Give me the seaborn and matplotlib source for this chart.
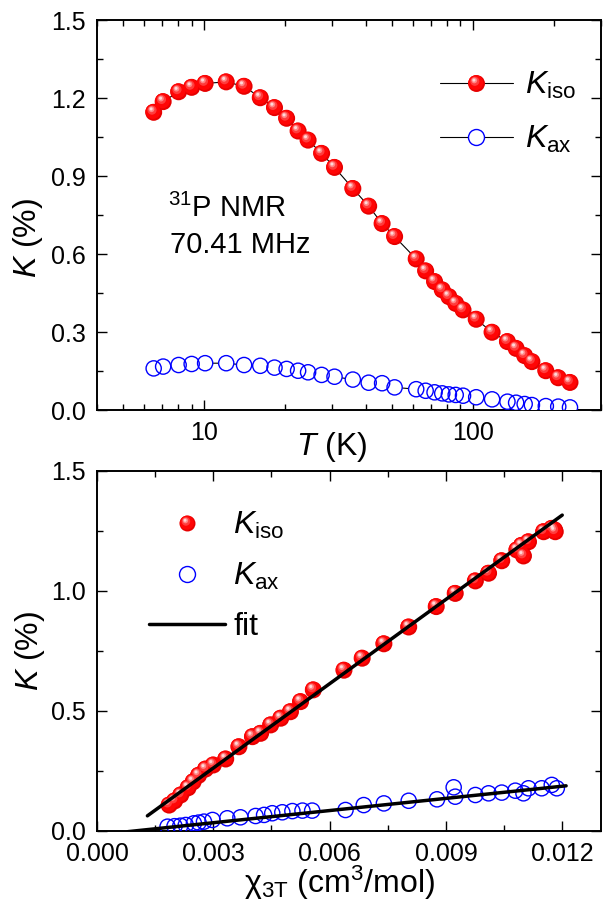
import numpy as np
import pandas as pd
import matplotlib
matplotlib.use("Agg")
import matplotlib.pyplot as plt
import seaborn as sns
from matplotlib.path import Path
from matplotlib.lines import Line2D
from matplotlib.legend_handler import HandlerTuple
from matplotlib.ticker import MultipleLocator, FixedLocator, FormatStrFormatter, NullFormatter, LogLocator

# ---- Knight shift vs temperature ----
T = [6.5, 7.05, 8.05, 9.0, 10.1, 12.1, 14.1, 16.2, 18.3, 20.3, 22.4, 24.4, 27.4, 30.6,
     35.8, 41.0, 46.0, 51.2, 61.6, 66.8, 72.1, 77.0, 81.5, 86.4, 92.0, 103, 118, 134.6,
     145, 156, 166, 187, 208, 230]
K_iso = [1.145, 1.186, 1.224, 1.241, 1.256, 1.262, 1.245, 1.201, 1.163, 1.122, 1.073, 1.038,
         0.987, 0.933, 0.852, 0.784, 0.717, 0.667, 0.581, 0.535, 0.494, 0.462, 0.436, 0.410,
         0.385, 0.349, 0.299, 0.263, 0.237, 0.209, 0.186, 0.151, 0.124, 0.106]
K_ax = [0.160, 0.167, 0.173, 0.177, 0.180, 0.180, 0.173, 0.170, 0.163, 0.158, 0.151, 0.145,
        0.135, 0.128, 0.117, 0.105, 0.103, 0.087, 0.080, 0.074, 0.068, 0.064, 0.060, 0.058,
        0.055, 0.049, 0.041, 0.032, 0.028, 0.023, 0.019, 0.015, 0.013, 0.010]

# ---- Knight shift vs susceptibility (Clogston-Jaccarino plot) ----
chi_iso = [0.00186, 0.00200, 0.00216, 0.00235, 0.00248, 0.00262, 0.00280, 0.00300, 0.00332,
           0.00366, 0.00401, 0.00422, 0.00448, 0.00474, 0.00499, 0.00525, 0.00558, 0.00637,
           0.00684, 0.00740, 0.00804, 0.00875, 0.00924, 0.00976, 0.01010, 0.01044, 0.01083,
           0.01100, 0.01095, 0.01113, 0.01152, 0.01173, 0.01182, 0.01180]
Kc_iso = [0.108, 0.125, 0.150, 0.180, 0.205, 0.232, 0.258, 0.275, 0.300, 0.351, 0.393, 0.407,
          0.442, 0.470, 0.497, 0.539, 0.588, 0.670, 0.720, 0.780, 0.850, 0.935, 0.990, 1.042,
          1.074, 1.126, 1.171, 1.146, 1.190, 1.205, 1.247, 1.261, 1.247, 1.255]
chi_ax = [0.00182, 0.00200, 0.00215, 0.00229, 0.00250, 0.00262, 0.00276, 0.00298, 0.00336,
          0.00370, 0.00409, 0.00431, 0.00452, 0.00478, 0.00504, 0.00530, 0.00555, 0.00641,
          0.00688, 0.00740, 0.00804, 0.00877, 0.00920, 0.00924, 0.00976, 0.01010, 0.01044,
          0.01079, 0.01100, 0.01113, 0.01147, 0.01173, 0.01186]
Kc_ax = [0.018, 0.020, 0.022, 0.025, 0.032, 0.035, 0.039, 0.046, 0.053, 0.057, 0.0625, 0.067,
         0.074, 0.078, 0.083, 0.085, 0.085, 0.0875, 0.108, 0.115, 0.126, 0.132, 0.182, 0.143,
         0.150, 0.157, 0.160, 0.168, 0.157, 0.178, 0.178, 0.192, 0.178]

# linear fits K = slope * chi + offset
fit_iso = (117.1, -0.089)
fit_ax = (16.9, -0.0162)
fit_iso_range = [0.0013, 0.0120]
fit_ax_range = [0.0008, 0.0121]

xticks_bottom = [0.000, 0.003, 0.006, 0.009, 0.012]
yticks_bottom = [0.0, 0.5, 1.0, 1.5]

BLUE = "#0000ff"

sns.set_theme(style="ticks")
plt.rcParams["font.family"] = ["Liberation Sans", "DejaVu Sans"]
plt.rcParams["mathtext.fontset"] = "custom"
plt.rcParams["mathtext.rm"] = "Liberation Sans"
plt.rcParams["mathtext.it"] = "Liberation Sans:italic"
plt.rcParams["mathtext.bf"] = "Liberation Sans:bold"
plt.rcParams["axes.linewidth"] = 1.4
for key in ("text.color", "axes.labelcolor", "xtick.color", "ytick.color",
            "xtick.labelcolor", "ytick.labelcolor", "axes.edgecolor"):
    plt.rcParams[key] = "black"

fig = plt.figure(figsize=(6.05, 9.07), dpi=100)
W, H = 605, 907
ax1 = fig.add_axes([97 / W, 1 - 410 / H, 504 / W, 390 / H])
ax2 = fig.add_axes([97 / W, 1 - 831 / H, 504 / W, 360 / H])


def disc(cx, cy, r):
    """Circle marker path placed inside a unit frame so that offsets survive normalisation."""
    pad = Path([(0.5, 0.5), (-0.5, -0.5)], [Path.MOVETO, Path.MOVETO])
    return Path.make_compound_path(pad, Path.circle((cx, cy), r))


# shaded "glass ball" marker built from stacked discs
BALL = [
    (disc(0.0, 0.0, 0.5), "#e60000"),
    (disc(-0.04, 0.05, 0.44), "#ff0505"),
    (disc(-0.10, 0.13, 0.27), "#ff3c3c"),
    (disc(-0.13, 0.18, 0.17), "#ff8686"),
    (disc(-0.15, 0.20, 0.09), "#ffd8d8"),
]
BALL_S = 150


def balls(ax, x, y, s=BALL_S):
    df = pd.DataFrame({"x": x, "y": y})
    for path, col in BALL:
        sns.scatterplot(data=df, x="x", y="y", ax=ax, marker=path, s=s, color=col,
                        linewidth=0, edgecolor="none", legend=False, zorder=4)


def rings(ax, x, y, s=120, hide_line=False):
    df = pd.DataFrame({"x": x, "y": y})
    if hide_line:
        sns.scatterplot(data=df, x="x", y="y", ax=ax, marker="o", s=s, color="white",
                        linewidth=0, edgecolor="none", legend=False, zorder=3)
    sns.scatterplot(data=df, x="x", y="y", ax=ax, marker="o", s=s, facecolor="none",
                    edgecolor=BLUE, linewidth=1.0, legend=False, zorder=4)


def ball_handle(ms=12.2, with_line=False):
    parts = []
    for i, (path, col) in enumerate(BALL):
        if i == 0 and with_line:
            parts.append(Line2D([], [], color="black", lw=0.8, marker=path, ms=ms,
                                mfc=col, mec="none", mew=0))
        else:
            parts.append(Line2D([], [], ls="", marker=path, ms=ms, mfc=col, mec="none", mew=0))
    return tuple(parts)


OVERLAY = {tuple: HandlerTuple(ndivide=1, pad=0)}

# ---------------- top panel ----------------
top = pd.DataFrame({"T": T, "K_iso": K_iso, "K_ax": K_ax})
sns.lineplot(data=top, x="T", y="K_iso", ax=ax1, color="black", lw=0.8, sort=False,
             estimator=None, zorder=2)
sns.lineplot(data=top, x="T", y="K_ax", ax=ax1, color="black", lw=0.8, sort=False,
             estimator=None, zorder=2)
balls(ax1, top["T"], top["K_iso"])
rings(ax1, top["T"], top["K_ax"], hide_line=True)

ax1.set_xscale("log")
ax1.set_xlim(4, 300)
ax1.set_ylim(0, 1.5)
ax1.xaxis.set_major_locator(FixedLocator([10, 100]))
ax1.xaxis.set_major_formatter(FormatStrFormatter("%d"))
ax1.xaxis.set_minor_locator(LogLocator(base=10, subs=np.arange(2, 10)))
ax1.xaxis.set_minor_formatter(NullFormatter())
ax1.yaxis.set_major_locator(MultipleLocator(0.3))
ax1.yaxis.set_minor_locator(MultipleLocator(0.15))
ax1.yaxis.set_major_formatter(FormatStrFormatter("%.1f"))

ax1.set_xlabel(r"$T$ (K)", fontsize=23)
ax1.set_ylabel(r"$K$ (%)", fontsize=23)
ax1.xaxis.set_label_coords((332 - 97) / 504, -(447 - 410) / 390)
ax1.xaxis.label.set_va("center")
ax1.yaxis.set_label_coords(-(97 - 28) / 504, (410 - 238) / 390)
ax1.yaxis.label.set_va("center")

fig.text(168 / W, 1 - 217 / H, r"$^{31}$P NMR", fontsize=21, va="baseline", ha="left")
fig.text(170 / W, 1 - 253 / H, "70.41 MHz", fontsize=21, va="baseline", ha="left")

h_iso = ball_handle(with_line=True)
h_ax = Line2D([], [], color="black", lw=0.8, marker="o", ms=11.5, mfc="white", mec=BLUE, mew=1.0)
ax1.legend([h_iso, h_ax], [r"$K_{\mathrm{iso}}$", r"$K_{\mathrm{ax}}$"], handler_map=OVERLAY,
           loc="upper left", bbox_to_anchor=((440 - 97) / 504, (410 - 70) / 390),
           frameon=False, fontsize=23, handlelength=2.28, handletextpad=0.37,
           labelspacing=0.72, borderpad=0, borderaxespad=0)

# ---------------- bottom panel ----------------
balls(ax2, chi_iso, Kc_iso)
rings(ax2, chi_ax, Kc_ax)
for (slope, offset), rng in [(fit_iso, fit_iso_range), (fit_ax, fit_ax_range)]:
    fx = np.array(rng)
    fit_df = pd.DataFrame({"chi": fx, "K": slope * fx + offset})
    sns.lineplot(data=fit_df, x="chi", y="K", ax=ax2, color="black", lw=2.5,
                 estimator=None, sort=False, zorder=5)

ax2.set_xlim(0, 0.013)
ax2.set_ylim(0, 1.5)
ax2.xaxis.set_major_locator(FixedLocator(xticks_bottom))
ax2.xaxis.set_minor_locator(MultipleLocator(0.0015))
ax2.xaxis.set_major_formatter(FormatStrFormatter("%.3f"))
ax2.yaxis.set_major_locator(FixedLocator(yticks_bottom))
ax2.yaxis.set_minor_locator(MultipleLocator(0.25))
ax2.yaxis.set_major_formatter(FormatStrFormatter("%.1f"))

ax2.set_xlabel("\u03c7$_{\\mathrm{3T}}$ (cm$^{3}$/mol)", fontsize=23)
ax2.set_ylabel(r"$K$ (%)", fontsize=23)
ax2.xaxis.set_label_coords((340 - 97) / 504, -(883 - 831) / 360)
ax2.xaxis.label.set_va("center")
ax2.yaxis.set_label_coords(-(97 - 30) / 504, 0.5)
ax2.yaxis.label.set_va("center")

h2_iso = ball_handle(ms=11.5)
h2_ax = Line2D([], [], ls="", marker="o", ms=11.5, mfc="none", mec=BLUE, mew=1.0)
h2_fit = Line2D([], [], color="black", lw=2.5)
ax2.legend([h2_iso, h2_ax, h2_fit], [r"$K_{\mathrm{iso}}$", r"$K_{\mathrm{ax}}$", "fit"],
           handler_map=OVERLAY,
           loc="upper left", bbox_to_anchor=((149 - 97) / 504, (831 - 510) / 360),
           frameon=False, fontsize=23, handlelength=2.38, handletextpad=0.25,
           labelspacing=0.62, borderpad=0, borderaxespad=0)

for ax in (ax1, ax2):
    ax.set_facecolor("white")
    ax.tick_params(which="both", direction="in", top=True, right=True, colors="black",
                   labelsize=18, pad=8)
    ax.tick_params(which="major", length=7.5, width=1.0)
    ax.tick_params(which="minor", length=4, width=1.0)
    for sp in ax.spines.values():
        sp.set_visible(True)
        sp.set_color("black")
        sp.set_linewidth(1.4)

fig.savefig("out.png", dpi=100, facecolor="white")
